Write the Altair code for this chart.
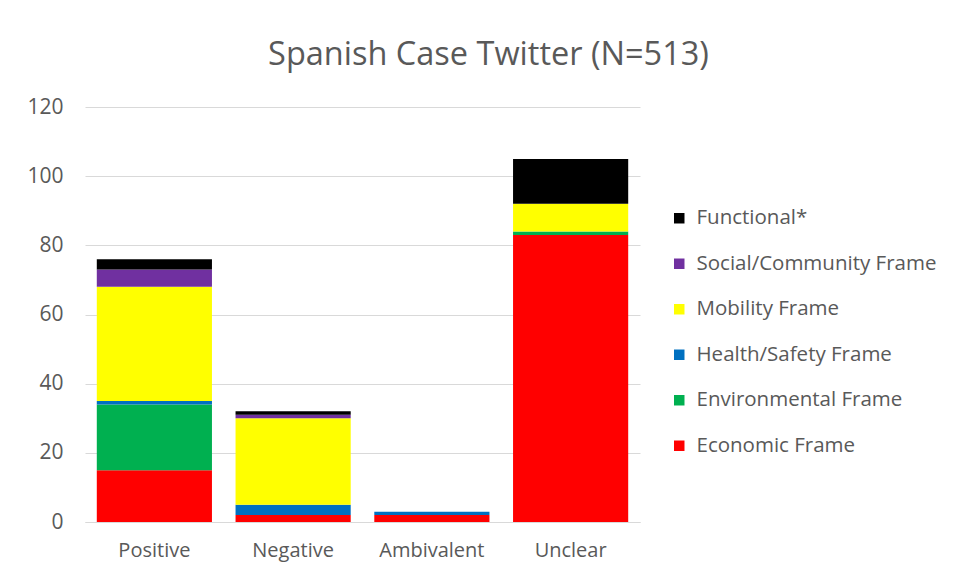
import altair as alt
import pandas as pd

categories = ["Positive", "Negative", "Ambivalent", "Unclear"]
frames = ["Economic Frame", "Environmental Frame", "Health/Safety Frame",
          "Mobility Frame", "Social/Community Frame", "Functional*"]
colors = ["#FF0000", "#00B050", "#0070C0", "#FFFF00", "#7030A0", "#000000"]

economic = [15, 2, 2, 83]
environmental = [19, 0, 0, 1]
health = [1, 3, 1, 0]
mobility = [33, 25, 0, 8]
social = [5, 1, 0, 0]
functional = [3, 1, 0, 13]

series = [economic, environmental, health, mobility, social, functional]
rows = []
for fi, (fname, vals) in enumerate(zip(frames, series)):
    for c, v in zip(categories, vals):
        rows.append({"Sentiment": c, "Frame": fname, "Count": v, "ord": fi})
df = pd.DataFrame(rows)

font = "Open Sans"
grey = "#595959"

chart = alt.Chart(df).mark_bar().encode(
    x=alt.X("Sentiment:N", sort=categories, title=None,
            scale=alt.Scale(paddingInner=0.17, paddingOuter=0.085),
            axis=alt.Axis(labelAngle=0, labelFontSize=20, labelColor=grey,
                          labelFont=font, domainColor="#D9D9D9", ticks=False,
                          labelPadding=18)),
    y=alt.Y("Count:Q", stack="zero", title=None,
            scale=alt.Scale(domain=[0, 120]),
            axis=alt.Axis(values=[0, 20, 40, 60, 80, 100, 120], domain=False,
                          ticks=False, labelFontSize=21, labelColor=grey,
                          labelFont=font, labelPadding=22, gridColor="#D9D9D9")),
    color=alt.Color("Frame:N",
                    scale=alt.Scale(domain=frames[::-1], range=colors[::-1]),
                    legend=alt.Legend(title=None, orient="none", legendX=584, legendY=101,
                                      symbolType="square", symbolSize=110,
                                      symbolStrokeWidth=0, labelFontSize=20.5,
                                      labelColor=grey, labelFont=font, labelLimit=400,
                                      rowPadding=24.5, labelOffset=7)),
    order=alt.Order("ord:Q", sort="ascending"),
).properties(
    width=555, height=415,
    title=alt.Title("Spanish Case Twitter (N=513)", fontSize=32.5, color=grey,
                    font=font, fontWeight="normal", anchor="middle", dx=126, offset=25),
    autosize=alt.AutoSizeParams(type="none"),
    padding={"left": 77, "top": 99, "right": 309, "bottom": 50},
).configure(background="white").configure_view(stroke=None)

chart.save("out.html", embed_options={"renderer": "svg", "actions": False})
